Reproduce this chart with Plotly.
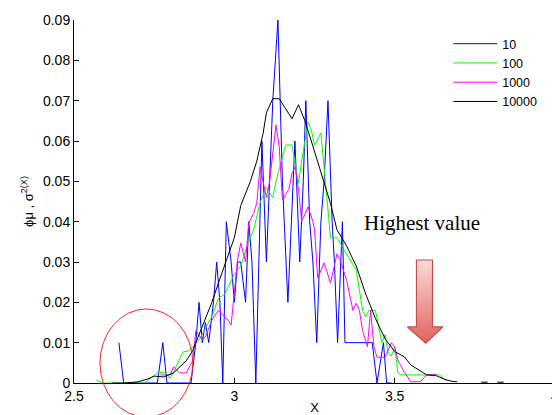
import plotly.graph_objects as go

# ---------------- data ----------------
x10 = [2.64, 2.655, 2.76, 2.777, 2.79, 2.865, 2.88, 2.89, 2.90, 2.91, 2.92, 2.935, 2.945, 2.955,
       2.964, 2.975, 2.99, 3.0, 3.01, 3.02, 3.035, 3.045, 3.055, 3.067, 3.086, 3.10, 3.12,
       3.136, 3.15, 3.167, 3.178, 3.189, 3.204, 3.215, 3.223, 3.235, 3.245, 3.257, 3.27, 3.28,
       3.292, 3.305, 3.312, 3.322, 3.337, 3.345, 3.43, 3.445, 3.465, 3.475, 3.49]
y10 = [0.01, 0, 0, 0.01, 0, 0, 0.01, 0.02, 0.01, 0.015, 0.01, 0.02, 0.03, 0.02,
       0, 0.04, 0.03, 0.02, 0.03, 0.03, 0.02, 0.04, 0.03, 0, 0.06, 0.03, 0.07,
       0.09, 0.05, 0.02, 0.04, 0.06, 0.03, 0.05, 0.07, 0.04, 0.03, 0.01, 0.04, 0.05,
       0.07, 0.04, 0.03, 0.01, 0.04, 0.01, 0.01, 0, 0.01, 0, 0]

x100 = [2.57, 2.59, 2.72, 2.76, 2.78, 2.80, 2.81, 2.84, 2.86, 2.89, 2.93, 2.95, 2.97, 3.0,
        3.02, 3.04, 3.06, 3.08, 3.10, 3.12, 3.13, 3.16, 3.18, 3.20, 3.21, 3.23, 3.24, 3.25,
        3.27, 3.28, 3.30, 3.32, 3.36, 3.38, 3.40, 3.41, 3.42, 3.44, 3.46, 3.47, 3.48, 3.49,
        3.50, 3.51, 3.52, 3.64, 3.66]
y100 = [0.0007, 0, 0, 0.0025, 0.0027, 0.0012, 0.0027, 0.0077, 0.008, 0.0107, 0.0164, 0.021,
        0.022, 0.027, 0.029, 0.034, 0.038, 0.0446, 0.0486, 0.046, 0.05, 0.059, 0.059, 0.0496,
        0.055, 0.0647, 0.0627, 0.059, 0.062, 0.053, 0.036, 0.036, 0.0305, 0.028, 0.018, 0.0164,
        0.018, 0.018, 0.01, 0.012, 0.0074, 0.0067, 0.009, 0.0025, 0.002, 0.002, 0.0005]

x1000 = [2.77, 2.80, 2.81, 2.83, 2.85, 2.87, 2.88, 2.90, 2.91, 2.93, 2.95, 2.98, 2.99, 3.0,
         3.01, 3.02, 3.035, 3.045, 3.06, 3.07, 3.08, 3.10, 3.11, 3.13, 3.14, 3.15, 3.17, 3.18,
         3.19, 3.20, 3.21, 3.23, 3.245, 3.25, 3.26, 3.28, 3.30, 3.32, 3.33, 3.35, 3.37, 3.38,
         3.39, 3.40, 3.415, 3.425, 3.435, 3.445, 3.47, 3.49, 3.50, 3.51, 3.53, 3.55, 3.58, 3.60,
         3.63]
y1000 = [0.002, 0.002, 0.004, 0.0025, 0.0025, 0.0055, 0.013, 0.0107, 0.0114, 0.0156, 0.018,
         0.0156, 0.0144, 0.023, 0.0305, 0.0347, 0.03, 0.0397, 0.042, 0.0446, 0.0536, 0.046,
         0.05, 0.064, 0.0585, 0.0454, 0.048, 0.052, 0.0536, 0.048, 0.04, 0.0437, 0.04, 0.038,
         0.026, 0.0298, 0.0248, 0.032, 0.0305, 0.0255, 0.018, 0.0198, 0.018, 0.013, 0.009,
         0.018, 0.009, 0.0064, 0.0064, 0.01, 0.009, 0.0057, 0.0027, 0.0003, 0.0003, 0.002,
         0.0022]

x10000 = [2.62, 2.66, 2.70, 2.73, 2.75, 2.78, 2.81, 2.85, 2.87, 2.89, 2.93, 2.96, 3.0, 3.02,
          3.05, 3.07, 3.09, 3.10, 3.12, 3.14, 3.16, 3.18, 3.20, 3.22, 3.24, 3.26, 3.30, 3.32,
          3.35, 3.38, 3.41, 3.44, 3.47, 3.50, 3.53, 3.55, 3.58, 3.60, 3.63, 3.66, 3.68, 3.695,
          3.70, 3.77, 3.79, 3.80, 3.82, 3.84]
y10000 = [0, 0, 0.0003, 0.001, 0.0017, 0.0015, 0.0025, 0.0055, 0.008, 0.012, 0.02, 0.027,
          0.036, 0.044, 0.05, 0.055, 0.062, 0.067, 0.0705, 0.0705, 0.068, 0.0655, 0.069, 0.065,
          0.06, 0.055, 0.0445, 0.038, 0.034, 0.029, 0.022, 0.016, 0.011, 0.0078, 0.0065, 0.0045,
          0.003, 0.002, 0.0018, 0.0008, 0.0004, 0.0003, None, 0.0002, 0.0002, None, 0.0002,
          0.0002]

series = [("10", x10, y10, "#0000ff"),
          ("100", x100, y100, "#00ff00"),
          ("1000", x1000, y1000, "#ff00ff"),
          ("10000", x10000, y10000, "#000000")]

x_ticks = [2.5, 3, 3.5, 4]
x_tick_labels = ["2.5", "3", "3.5", "4"]
y_ticks = [0, 0.01, 0.02, 0.03, 0.04, 0.05, 0.06, 0.07, 0.08, 0.09]
y_tick_labels = ["0", "0.01", "0.02", "0.03", "0.04", "0.05", "0.06", "0.07", "0.08", "0.09"]

# annotation arrow outline (data coords)
arrow_x = [3.568, 3.618, 3.618, 3.650, 3.597, 3.540, 3.568, 3.568]
arrow_y = [0.0305, 0.0305, 0.0139, 0.0139, 0.0099, 0.0139, 0.0139, 0.0305]

# ---------------- figure ----------------
fig = go.Figure()
for name, xs, ys, color in series:
    fig.add_trace(go.Scatter(x=xs, y=ys, mode="lines", name=name,
                             line=dict(color=color, width=1), connectgaps=False))

fig.add_trace(go.Scatter(
    x=arrow_x, y=arrow_y, mode="lines", fill="toself", showlegend=False,
    line=dict(color="#c0504d", width=1.2),
    fillgradient=dict(type="vertical",
                      colorscale=[[0, "#e2625e"], [1, "#fcdad9"]]),
    hoverinfo="skip"))

fig.add_shape(type="circle", xref="paper", yref="paper",
              x0=0.054, x1=0.247, y0=-0.094, y1=0.204,
              line=dict(color="#ff2020", width=1))

fig.add_annotation(x=3.585, y=0.0397, xref="x", yref="y", text="Highest value",
                   showarrow=False,
                   font=dict(family="Liberation Serif, Times New Roman, serif",
                             size=21, color="#000000"))

tick_font = dict(family="Liberation Sans, Arial, sans-serif", size=14, color="#000000")
title_font = dict(family="Liberation Sans, Arial, sans-serif", size=13, color="#000000")

# The page body adds an 8px offset, so the figure is 8px smaller than the window
fig.update_layout(
    width=552, height=407,
    margin=dict(l=66, r=5, t=12, b=32, autoexpand=False),
    paper_bgcolor="white", plot_bgcolor="white",
    font=title_font,
    showlegend=True,
    legend=dict(x=0.778, y=0.975, xanchor="left", yanchor="top",
                bgcolor="rgba(0,0,0,0)", borderwidth=0,
                font=dict(family="Liberation Sans, Arial, sans-serif", size=12.5),
                tracegroupgap=0, itemwidth=44),
    xaxis=dict(range=[2.5, 4], tickmode="array", tickvals=x_ticks,
               ticktext=x_tick_labels, ticks="inside", ticklen=5, tickcolor="#000",
               tickfont=tick_font,
               showline=True, linecolor="#000", linewidth=1, showgrid=False,
               zeroline=False, automargin=False,
               title=dict(text="X", standoff=4, font=title_font)),
    yaxis=dict(range=[0, 0.09], tickmode="array", tickvals=y_ticks,
               ticktext=y_tick_labels, ticks="inside", ticklen=5, tickcolor="#000",
               tickfont=tick_font,
               showline=True, linecolor="#000", linewidth=1, showgrid=False,
               zeroline=False, automargin=False,
               title=dict(text="ϕμ , σ<sup>2(X)</sup>", standoff=6, font=title_font)),
)

fig.write_html("out.html")
